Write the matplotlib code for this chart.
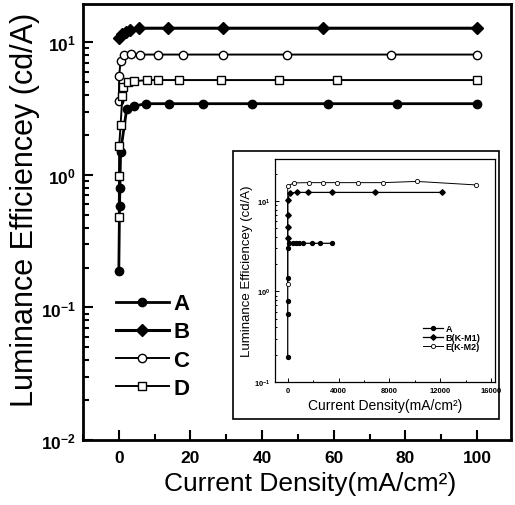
import numpy as np
import matplotlib
matplotlib.use("Agg")
from matplotlib import pyplot as plt
from matplotlib.patches import Rectangle
from matplotlib.ticker import LogLocator, MultipleLocator, NullFormatter

plt.rcParams['font.family'] = ['Liberation Sans', 'DejaVu Sans']
plt.rcParams['mathtext.fontset'] = 'custom'
plt.rcParams['mathtext.rm'] = 'Liberation Sans:bold'
plt.rcParams['mathtext.default'] = 'rm'

# main chart data (mA/cm2, cd/A)
a_x = [0, 0.2, 0.3, 0.5, 2.2, 4.2, 7.5, 14, 23.4, 37.3, 58.5, 77.7, 100]
a_y = [0.19, 0.58, 0.8, 1.5, 3.15, 3.3, 3.45, 3.45, 3.45, 3.45, 3.45, 3.45, 3.45]
b_x = [0, 1, 2, 3, 5.5, 13.6, 29, 57, 100]
b_y = [10.8, 11.5, 12.0, 12.5, 12.8, 12.8, 12.8, 12.8, 12.8]
c_x = [0, 0.1, 0.5, 1.5, 3.3, 6, 11, 17.8, 29.2, 47, 76, 100]
c_y = [3.6, 5.6, 7.3, 8.1, 8.2, 8.1, 8.1, 8.1, 8.1, 8.1, 8.1, 8.1]
d_x = [0, 0.05, 0.1, 0.5, 1.0, 1.3, 2.7, 4.2, 8, 11, 16.8, 28.5, 44.6, 61, 100]
d_y = [0.48, 0.98, 1.65, 2.4, 3.95, 4.6, 5.0, 5.1, 5.2, 5.2, 5.2, 5.2, 5.2, 5.2, 5.2]

# inset data
ia_x = [0, 0, 0, 0, 0, 80, 390, 620, 850, 1240, 1940, 2560, 3490]
ia_y = [0.19, 0.56, 0.78, 1.4, 3.0, 3.4, 3.4, 3.4, 3.4, 3.4, 3.4, 3.4, 3.4]
ib_x = [0, 0, 0, 0, 150, 700, 1600, 3500, 6900, 12100]
ib_y = [3.9, 5.1, 7.0, 10.3, 12.2, 12.4, 12.4, 12.4, 12.4, 12.4]
ie_x = [0, 0, 470, 1700, 2790, 3880, 5500, 7500, 10150, 14800]
ie_y = [1.2, 14.5, 15.8, 15.9, 15.9, 15.9, 15.9, 15.9, 16.4, 15.0]

W, H = 515, 506
fig = plt.figure(figsize=(W / 100, H / 100), dpi=100)

ax = fig.add_axes([83 / W, 1 - 441 / H, 428 / W, 436 / H])
ax.plot(a_x, a_y, '-', color='black', lw=2, marker='o', ms=6, label='A')
ax.plot(b_x, b_y, '-', color='black', lw=2.2, marker='D', ms=6.5, label='B')
ax.plot(c_x, c_y, '-', color='black', lw=1.4, marker='o', ms=6,
        mfc='white', mec='black', mew=1, label='C')
ax.plot(d_x, d_y, '-', color='black', lw=1.4, marker='s', ms=6, mfc='white',
        mec='black', mew=1, label='D')
ax.set_yscale('log')
ax.set_xlim(-10, 109.5)
ax.set_ylim(0.01, 19.5)
ax.xaxis.set_major_locator(MultipleLocator(20))
ax.xaxis.set_minor_locator(MultipleLocator(10))
ax.yaxis.set_minor_locator(LogLocator(base=10, subs=np.arange(2, 10)))
ax.yaxis.set_minor_formatter(NullFormatter())
ax.tick_params(which='both', direction='in', width=1.5, labelsize=12.5)
ax.tick_params(which='major', length=7, pad=7)
ax.tick_params(axis='y', which='major', pad=5)
ax.tick_params(which='minor', length=4)
for lab in ax.get_xticklabels() + ax.get_yticklabels():
    lab.set_fontweight('bold')
for s in ax.spines.values():
    s.set_linewidth(2)
ax.set_xlabel('Current Density(mA/cm²)', fontsize=19)
ax.xaxis.set_label_coords(0.53, -0.072)
ax.set_ylabel('Luminance Efficiencey (cd/A)', fontsize=22)
ax.yaxis.set_label_coords(-0.1, 0.53)
leg = ax.legend(loc='upper left', bbox_to_anchor=(0.04, 0.372), frameon=False,
                handlelength=2.4, labelspacing=0.32, handletextpad=0.2,
                borderpad=0.2, prop={'weight': 'bold', 'size': 16})

# inset frame
fig.patches.append(Rectangle((233 / W, 1 - 420 / H), 266 / W, 268 / H,
                             transform=fig.transFigure, fill=True, fc='white',
                             ec='black', lw=1.2, zorder=2))

ins = fig.add_axes([275 / W, 1 - 383 / H, 220 / W, 223 / H], zorder=3)
ins.plot(ia_x, ia_y, '-', color='black', lw=0.9, marker='o', ms=2.8, label='A')
ins.plot(ib_x, ib_y, '-', color='black', lw=0.9, marker='D', ms=2.8,
         label='B(K-M1)')
ins.plot(ie_x, ie_y, '-', color='black', lw=0.7, marker='o', ms=3,
         mfc='white', mec='black', mew=0.6, label='E(K-M2)')
ins.set_yscale('log')
ins.set_xlim(-1000, 16300)
ins.set_ylim(0.1, 29)
ins.xaxis.set_major_locator(MultipleLocator(4000))
ins.xaxis.set_minor_locator(MultipleLocator(2000))
ins.yaxis.set_minor_locator(LogLocator(base=10, subs=np.arange(2, 10)))
ins.yaxis.set_minor_formatter(NullFormatter())
ins.tick_params(which='both', direction='in', width=0.7, labelsize=5.5)
ins.tick_params(which='major', length=3)
ins.tick_params(which='minor', length=1.5)
for lab in ins.get_xticklabels() + ins.get_yticklabels():
    lab.set_fontweight('bold')
for s in ins.spines.values():
    s.set_linewidth(0.9)
ins.set_xlabel('Current Density(mA/cm²)', fontsize=10, labelpad=3)
ins.set_ylabel('Luminance Efficiencey (cd/A)', fontsize=9.5)
ins.yaxis.set_label_coords(-0.1, 0.5)
ins.legend(loc='lower right', bbox_to_anchor=(0.935, 0.14), frameon=False,
           handlelength=2.2, labelspacing=0.0, handletextpad=0.3,
           borderpad=0, borderaxespad=0, prop={'weight': 'bold', 'size': 6.5})

fig.savefig('out.png', dpi=100)
